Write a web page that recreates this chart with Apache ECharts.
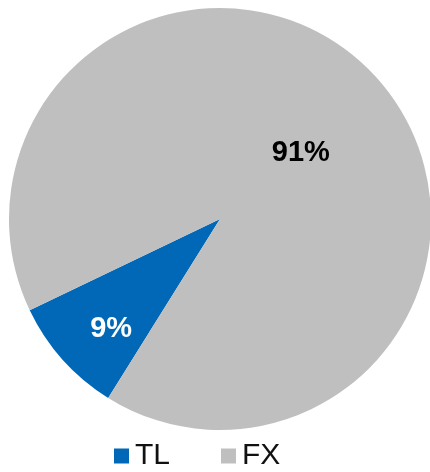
<!DOCTYPE html>
<html>
<head>
<meta charset="utf-8">
<script src="https://cdn.jsdelivr.net/npm/echarts@6/dist/echarts.min.js"></script>
<style>
  html, body { margin: 0; padding: 0; background: #fff; }
  #chart { width: 430px; height: 472px; }
</style>
</head>
<body>
<div id="chart"></div>
<script>
// 数据
var names = ["TL", "FX"];
var values = [9, 91];
var colors = ["#0068B7", "#BFBFBF"];
var labelColors = ["#ffffff", "#000000"];

var myChart = echarts.init(document.getElementById("chart"));

var data = [];
for (var i = 0; i < names.length; i++) {
  data.push({
    name: names[i],
    value: values[i],
    itemStyle: { color: colors[i] },
    label: { color: labelColors[i] },
  });
}

var option = {
  animation: false,
  legend: {
    data: names,
    left: 114,
    top: 441,
    padding: 0,
    itemWidth: 15,
    itemHeight: 15,
    itemGap: 51,
    icon: "rect",
    selectedMode: false,
    textStyle: {
      fontFamily: "Liberation Sans",
      fontSize: 30,
      color: "#111111",
      padding: [0, 0, 0, 1],
    },
  },
  series: [
    {
      type: "pie",
      center: [220, 219],
      radius: 211,
      startAngle: 238,
      clockwise: true,
      silent: true,
      label: {
        show: true,
        position: "inside",
        formatter: "{c}%",
        fontFamily: "Liberation Sans",
        fontWeight: "bold",
        fontSize: 29,
      },
      // 小扇区的标签往外移一点
      labelLayout: function (params) {
        if (params.dataIndex === 0) {
          return { dx: -28, dy: 38 };
        }
        return { dy: 6 };
      },
      labelLine: { show: false },
      data: data,
    },
  ],
};

myChart.setOption(option);
</script>
</body>
</html>
